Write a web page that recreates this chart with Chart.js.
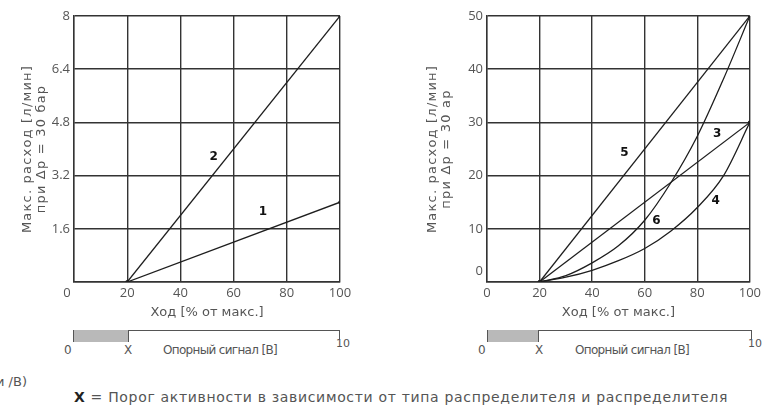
<!DOCTYPE html>
<html>
<head>
<meta charset="utf-8">
<script src="https://cdn.jsdelivr.net/npm/chart.js@4"></script>
<style>
  body { margin: 0; background: #fff; width: 764px; height: 407px; position: relative; overflow: hidden;
         font-family: "DejaVu Sans", sans-serif; color: #555; }
  .box { position: absolute; top: 0; height: 320px; }
  .signal { position: absolute; top: 330px; height: 30px; }
  .signal .line { position: absolute; left: 0; right: 0; top: 0; border-top: 1.5px solid #555; }
  .signal .fill { position: absolute; left: 0; top: 0; height: 12px; background: #b9b9b9;
                  border-left: 1.5px solid #555; border-right: 1.5px solid #555; }
  .signal .end { position: absolute; right: 0; top: 0; height: 9px; border-left: 1.5px solid #555; }
  .signal span { position: absolute; font-size: 12px; line-height: 14px; white-space: nowrap; }
  .note { position: absolute; font-size: 14px; line-height: 16px; white-space: nowrap; }
</style>
</head>
<body>
<div class="box" style="left:0;width:380px"><canvas id="leftChart"></canvas></div>
<div class="box" style="left:400px;width:364px"><canvas id="rightChart"></canvas></div>

<div class="signal" style="left:73px;width:267px">
  <div class="line"></div><div class="fill" style="width:54px"></div><div class="end"></div>
  <span style="left:-9px;top:13px">0</span>
  <span style="left:51px;top:13px">X</span>
  <span class="fit" data-w="114" style="left:90px;top:13px">Опорный сигнал [В]</span>
  <span style="left:263px;top:7px;font-size:11px">10</span>
</div>
<div class="signal" style="left:487px;width:265px">
  <div class="line"></div><div class="fill" style="width:50px"></div><div class="end"></div>
  <span style="left:-9px;top:13px">0</span>
  <span style="left:48px;top:13px">X</span>
  <span class="fit" data-w="114" style="left:88px;top:13px">Опорный сигнал [В]</span>
  <span style="left:261px;top:7px;font-size:11px">10</span>
</div>

<div class="note" style="left:-4px;top:374px;font-size:13px">и /В)</div>
<div class="note fit" data-w="654" style="left:74px;top:389px"><b style="color:#222">X</b> = Порог активности в зависимости от типа распределителя и распределителя</div>

<script>
// axes
const xTicks = [0, 20, 40, 60, 80, 100];
const xTickLabels = ['0', '20', '40', '60', '80', '100'];
const leftYTicks = [0, 1.6, 3.2, 4.8, 6.4, 8];
const leftYTickLabels = ['', '1.6', '3.2', '4.8', '6.4', '8'];
const rightYTicks = [0, 10, 20, 30, 40, 50];
const rightYTickLabels = ['0', '10', '20', '30', '40', '50'];

// flow curves (stroke % -> l/min)
const strokeLinear = [20, 100];
const flow1 = [0, 2.4];
const flow2 = [0, 8];
const flow3 = [0, 30];
const flow5 = [0, 50];
const strokeCurve = [20, 30, 40, 50, 60, 70, 80, 90, 100];
const flow4 = [0, 0.9, 2.2, 4.0, 6.3, 9.6, 14.0, 20.0, 30];
const flow6 = [0, 1.2, 3.6, 6.8, 11.6, 18.7, 27.4, 38.2, 50];

// curve numbers
const leftCurveLabels = [
  { text: '1', x: 71, y: 2.1 },
  { text: '2', x: 52.5, y: 3.75 }
];
const rightCurveLabels = [
  { text: '5', x: 52.3, y: 24.2 },
  { text: '3', x: 87.6, y: 27.8 },
  { text: '6', x: 64.5, y: 11.5 },
  { text: '4', x: 87, y: 15.3 }
];

const tickFont = { family: '"Open Sans"', size: 13 };
const gridColor = '#333';

function points(xs, ys) {
  return xs.map((x, i) => ({ x: x, y: ys[i] }));
}

function curve(xs, ys, smooth) {
  return {
    data: points(xs, ys),
    borderColor: '#1e1e1e',
    borderWidth: 1.3,
    backgroundColor: '#1e1e1e',
    pointRadius: ctx => (ctx.dataIndex === 0 || ctx.dataIndex === xs.length - 1) ? 1.8 : 0,
    pointBorderWidth: 0,
    cubicInterpolationMode: smooth ? 'monotone' : 'default',
    fill: false
  };
}

// draws curve numbers and the shifted "0" labels
function labelPlugin(items, yZeroLabel, xZeroShift) {
  return {
    id: 'curveNumbers',
    beforeDraw(chart) {
      // wider letter spacing for the y title only
      const s = chart.scales.y;
      if (s._spaced) return;
      const orig = s.drawTitle;
      s.drawTitle = function () {
        this.ctx.save();
        this.ctx.letterSpacing = '1.2px';
        orig.call(this);
        this.ctx.restore();
      };
      s._spaced = true;
    },
    afterDatasetsDraw(chart) {
      const { ctx, scales: { x, y }, chartArea } = chart;
      ctx.save();
      ctx.font = 'bold 12px "DejaVu Sans"';
      ctx.fillStyle = '#111';
      ctx.textAlign = 'center';
      ctx.textBaseline = 'middle';
      items.forEach(it => ctx.fillText(it.text, x.getPixelForValue(it.x), y.getPixelForValue(it.y)));
      ctx.font = '13px "Open Sans"';
      ctx.fillStyle = '#555';
      if (yZeroLabel) {
        ctx.textAlign = 'right';
        ctx.fillText(yZeroLabel, chartArea.left - 4, y.getPixelForValue(0) - 11);
      }
      if (xZeroShift) {
        ctx.textAlign = 'center';
        ctx.fillText(xTickLabels[0], x.getPixelForValue(0) + xZeroShift, chartArea.bottom + 11);
      }
      ctx.restore();
    }
  };
}

function makeChart(id, cfg) {
  return new Chart(document.getElementById(id), {
    type: 'line',
    data: { datasets: cfg.datasets },
    plugins: [labelPlugin(cfg.labels, cfg.yZeroLabel, cfg.xZeroShift)],
    options: {
      responsive: true,
      maintainAspectRatio: false,
      animation: false,
      layout: { padding: { top: 16, right: cfg.padRight, bottom: 0, left: 0 } },
      plugins: { legend: { display: false }, tooltip: { enabled: false } },
      scales: {
        x: {
          type: 'linear', min: 0, max: 100,
          afterBuildTicks: s => { s.ticks = xTicks.map(v => ({ value: v })); },
          afterFit: s => { s.height = 38; },
          grid: { color: gridColor, lineWidth: 1.4, drawTicks: false },
          border: { color: gridColor, width: 1.4 },
          ticks: {
            font: tickFont, color: '#555', padding: 3, maxRotation: 0,
            callback: (v, i) => (i === 0 && cfg.xZeroShift) ? '' : xTickLabels[i]
          },
          title: {
            display: true, text: 'Ход [% от макс.]', color: '#555',
            font: { family: '"DejaVu Sans"', size: 13, lineHeight: '14px' },
            padding: { top: 0, bottom: 0 }
          }
        },
        y: {
          type: 'linear', min: 0, max: cfg.yMax,
          afterBuildTicks: s => { s.ticks = cfg.yTicks.map(v => ({ value: v })); },
          afterFit: s => { s.width = cfg.yWidth; },
          grid: { color: gridColor, lineWidth: 1.4, drawTicks: false },
          border: { color: gridColor, width: 1.4 },
          ticks: {
            font: tickFont, color: '#555', padding: 4,
            callback: (v, i) => i === 0 ? '' : cfg.yTickLabels[i]
          },
          title: {
            display: true, text: cfg.yTitle, color: '#555',
            font: { family: '"DejaVu Sans"', size: 13, lineHeight: '14px' },
            padding: { top: cfg.titlePad, bottom: 0 }
          }
        }
      }
    }
  });
}

makeChart('leftChart', {
  datasets: [curve(strokeLinear, flow1), curve(strokeLinear, flow2)],
  labels: leftCurveLabels,
  yTicks: leftYTicks, yTickLabels: leftYTickLabels, yMax: 8,
  yWidth: 74, padRight: 40, titlePad: 21, xZeroShift: -7,
  yTitle: ['Макс. расход [л/мин]', 'при Δp = 30 бар']
});

makeChart('rightChart', {
  datasets: [curve(strokeLinear, flow3), curve(strokeLinear, flow5),
             curve(strokeCurve, flow4, true), curve(strokeCurve, flow6, true)],
  labels: rightCurveLabels,
  yTicks: rightYTicks, yTickLabels: rightYTickLabels, yMax: 50,
  yWidth: 87, padRight: 12, titlePad: 26, yZeroLabel: rightYTickLabels[0],
  yTitle: ['Макс. расход [л/мин]', 'при Δp = 30 ар']
});

// stretch html texts to the widths seen in the picture
document.querySelectorAll('.fit').forEach(el => {
  const target = parseFloat(el.dataset.w);
  const chars = el.textContent.length;
  const w = el.getBoundingClientRect().width;
  el.style.letterSpacing = ((target - w) / chars) + 'px';
});
</script>
</body>
</html>
